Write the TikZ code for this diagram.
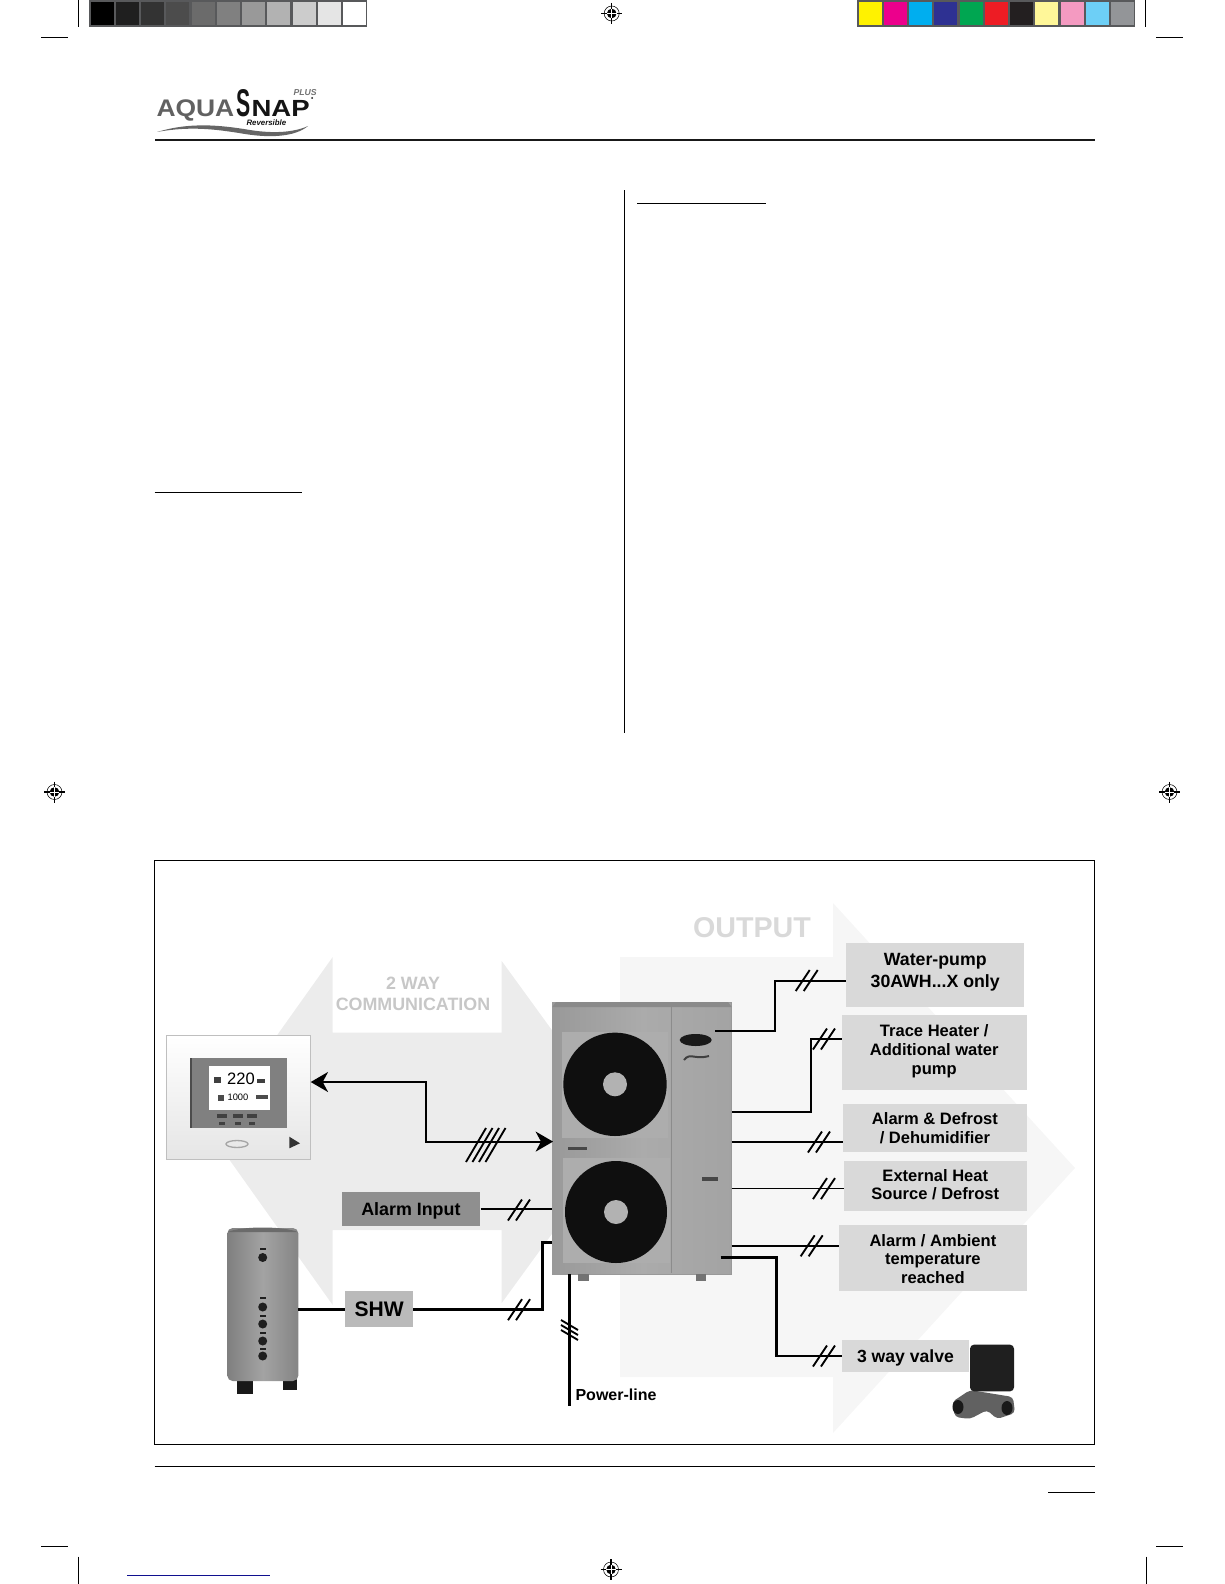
\documentclass[tikz,border=0pt]{standalone}
\usepackage{fontspec}
\setmainfont{Liberation Sans}
\usetikzlibrary{arrows.meta}

\definecolor{barframe}{HTML}{58595B}
\definecolor{cY}{HTML}{FFF200}
\definecolor{cM}{HTML}{EC008C}
\definecolor{cC}{HTML}{00AEEF}
\definecolor{cN}{HTML}{2E3192}
\definecolor{cG}{HTML}{00A651}
\definecolor{cR}{HTML}{ED1C24}
\definecolor{cK}{HTML}{231F20}
\definecolor{cLY}{HTML}{FFF799}
\definecolor{cP}{HTML}{F49AC1}
\definecolor{cS}{HTML}{6DCFF6}
\definecolor{cA}{HTML}{939598}
\definecolor{arrowleft}{HTML}{ECECEC}
\definecolor{arrowout}{HTML}{F6F6F6}
\definecolor{boxlight}{HTML}{D9D9D9}
\definecolor{linkblue}{HTML}{10108F}

\tikzset{every picture/.style={line width=0.75pt}}
\tikzset{
	wire/.style={line width=1.5pt},
	thinwire/.style={line width=1.1pt},
	slash/.style={line width=1.4pt},
	outbox/.style={fill=boxlight,inner sep=0pt,align=center,font=\fontsize{12.4}{14}\selectfont\bfseries},
	crop/.style={line width=0.75pt},
}
\newcommand{\regmark}[2]{%
	\draw [line width=0.4pt] (#1,#2) circle (7.5);
	\fill (#1,#2) circle (4.8);
	\draw [line width=0.8pt] (#1-10.5,#2) -- (#1+10.5,#2) (#1,#2-10.5) -- (#1,#2+10.5);
	\draw [white,line width=0.5pt] (#1-4.8,#2) -- (#1+4.8,#2) (#1,#2-4.8) -- (#1,#2+4.8);
}
\newcommand{\nudge}[2]{\raisebox{#1}[\height][\depth]{\begin{tabular}{@{}c@{}}#2\end{tabular}}}

\begin{document}
\begin{tikzpicture}[x=0.75pt,y=0.75pt,yscale=-1,xscale=1]
		\useasboundingbox (0,0) rectangle (1224,1584);
		
		%Shape: gray strip
		\fill [barframe] (89,0) rectangle (367,26.7);
		\foreach \g [count=\n from 0] in {100,88,80,70,58,50,40,30,20,10,0}
			\fill [black!\g] (90.5+\n*25.27,2) rectangle (113.5+\n*25.27,25);
		
		%Shape: colour strip
		\fill [barframe] (857,0) rectangle (1135,26.7);
		\foreach \c [count=\n from 0] in {cY,cM,cC,cN,cG,cR,cK,cLY,cP,cS,cA}
			\fill [\c] (858.5+\n*25.27,2) rectangle (881.5+\n*25.27,25);
		
		%Shape: crop marks
		\draw [crop] (78.3,0) -- (78.3,26.7) (41,37.3) -- (68,37.3);
		\draw [crop] (1145.8,0) -- (1145.8,26.7) (1156,37.3) -- (1183,37.3);
		\draw [crop] (41,1546) -- (68,1546) (78.3,1556.7) -- (78.3,1584);
		\draw [crop] (1156,1546) -- (1183,1546) (1146,1556.7) -- (1146,1584);
		\regmark{611.7}{13.5}
		\regmark{54.5}{792}
		\regmark{1169.5}{792}
		\regmark{611}{1569.5}
		
		%Shape: logo
		\node [anchor=base west,inner sep=0pt,text=black!62,xscale=1.1,font=\fontsize{18}{18}\selectfont\bfseries] (logoaqua) at (156,117) {AQUA};
		\node [anchor=base west,inner sep=0pt,text=black!92,xscale=0.55,font=\fontsize{29}{29}\selectfont\bfseries] (logos) at (236,117) {S};
		\node [anchor=base west,inner sep=0pt,text=black!92,xscale=1.18,font=\fontsize{17.5}{18}\selectfont\bfseries] (logonap) at (251,117) {NAP};
		\node [anchor=base west,inner sep=0pt,text=black!55,font=\fontsize{6.5}{7}\selectfont\bfseries\itshape] (logoplus) at (293,96) {PLUS};
		\node [anchor=base west,inner sep=0pt,text=black!92,font=\fontsize{5.9}{6}\selectfont\bfseries\itshape] (logorev) at (246,126) {Reversible};
		\fill [black!92] (312,98) circle (1);
		\fill [black!60] (157,132) .. controls (190,122) and (220,125) .. (250,130) .. controls (275,134) and (295,132) .. (308,126) .. controls (295,137) and (270,138) .. (245,134) .. controls (215,129) and (190,126) .. (157,132);
		
		%Shape: page rules
		\draw [line width=1.5pt,black!90] (155,140) -- (1094.6,140);
		\draw (624,190) -- (624,733);
		\draw (637,203) -- (766,203);
		\draw (154.5,492) -- (302,492);
		\draw (154.5,1466) -- (1094.6,1466);
		\draw (1048,1492.6) -- (1094.6,1492.6);
		\draw [linkblue] (127,1575) -- (269.6,1575);
		
		%Shape: background arrows
		\fill [arrowout] (620,957) -- (833,957) -- (833,903) -- (1075,1168) -- (833,1433) -- (833,1377) -- (620,1377) -- cycle;
		\fill [arrowleft] (209,1131) -- (332.7,957) -- (332.7,1032.5) -- (501.7,1032.5) -- (501.7,961) -- (626,1132) -- (501.7,1303) -- (501.7,1230) -- (332.7,1230) -- (332.7,1305) -- cycle;
		\node [text=black!22,align=center,inner sep=0pt,font=\fontsize{13.4}{15.4}\selectfont\bfseries] (titlecomm) at (413,994) {2 WAY\\COMMUNICATION};
		\node [text=black!15,inner sep=0pt,font=\fontsize{21.5}{24}\selectfont\bfseries] (titleout) at (752,928) {OUTPUT};
		
		%Shape: frame
		\draw (154.4,860.5) rectangle (1094,1444);
		
		%Shape: outdoor unit
		\node [draw=black!40,line width=0.5pt,left color=black!40,right color=black!36,middle color=black!33,minimum width=134.5pt,minimum height=204pt,inner sep=0pt] (unit) at (642,1138) {};
		\fill [black!46] (556,1002) -- (728,1002) -- (731.7,1007) -- (552.3,1007) -- cycle;
		\fill [black!32] (561.7,1032) rectangle (668,1138);
		\fill [black!32] (563,1158) rectangle (670,1263);
		\draw [black!45,line width=0.5pt] (671,1007) -- (671,1273);
		\fill [black!94] (615,1084.3) circle (51.7);
		\fill [black!94] (616,1212) circle (51);
		\fill [black!30] (615,1084.3) circle (12);
		\fill [black!30] (616,1212) circle (12);
		\fill [black!72] (568,1146.5) rectangle (587,1150);
		\fill [black!72] (702,1177) rectangle (718,1181);
		\fill [black!90] (695.7,1040) ellipse (16 and 6);
		\draw [black!75,line width=1.5pt] (684,1060) .. controls (690,1052) and (694,1060) .. (709,1056);
		\fill [black!55] (578,1274) rectangle (589,1281);
		\fill [black!55] (696,1274) rectangle (706,1281);
		
		%Shape: thermostat
		\node [draw=black!25,top color=white,bottom color=black!10,minimum width=108pt,minimum height=92.5pt,inner sep=0pt] (thermostat) at (238,1097.5) {};
		\fill [black!50] (190,1058) rectangle (286.7,1128);
		\draw [black!70,line width=1.2pt] (191,1058) -- (191,1128);
		\fill [white] (209,1065.7) rectangle (270,1110);
		\node [inner sep=0pt,font=\fontsize{12.4}{13}\selectfont] (disptemp) at (241,1079) {220};
		\node [inner sep=0pt,font=\fontsize{7}{8}\selectfont] (disptime) at (238,1097) {1000};
		\fill [black!75] (214,1077) rectangle (221,1083);
		\fill [black!75] (257,1079) rectangle (265,1083);
		\fill [black!70] (218,1095) rectangle (224,1101);
		\fill [black!70] (256,1095) rectangle (268,1099);
		\foreach \bx in {221.7,238.3,251.7} {
			\fill [black!75] (\bx-5,1114) rectangle (\bx+5,1118);
			\fill [black!75] (\bx-3,1122) rectangle (\bx+3,1125);
		}
		\draw [black!35,line width=1pt] (237,1144) ellipse (11 and 3.5);
		\fill [black!80] (289.3,1136.7) -- (289.3,1148.3) -- (300,1143.3) -- cycle;
		
		%Shape: tank
		\fill [black!90] (237,1375) rectangle (253,1394);
		\fill [black!90] (283,1375) rectangle (297,1390);
		\node [left color=black!50,right color=black!48,middle color=black!36,rounded corners=4pt,minimum width=53.25pt,minimum height=114.75pt,inner sep=0pt] (tank) at (262.8,1304.5) {};
		\fill [black!58] (228,1232) .. controls (240,1226) and (285,1226) .. (297.6,1232) -- cycle;
		\foreach \ty in {1257.5,1307,1324,1341,1356}
			\fill [black!88] (262.7,\ty) circle (4.5);
		\foreach \ty in {1249,1298,1316,1333,1349}
			\fill [black!88] (259.7,\ty-1) rectangle (265.7,\ty+1);
		
		%Shape: label boxes
		\node [fill=black!44,minimum width=103.7pt,minimum height=25.8pt,inner sep=0pt,font=\fontsize{13.4}{15}\selectfont\bfseries] (alarmbox) at (410.9,1208.8) {\nudge{-2.2pt}{Alarm Input}};
		\node [fill=black!27,minimum width=51.2pt,minimum height=26.8pt,inner sep=0pt,font=\fontsize{15.8}{18}\selectfont\bfseries] (shwbox) at (379.2,1308.9) {SHW};
		\node [outbox,minimum width=133.7pt,minimum height=48pt,font=\fontsize{13.3}{16}\selectfont\bfseries] (pumpbox) at (935.2,975) {\nudge{2.2pt}{Water-pump\\30AWH...X only}};
		\node [outbox,minimum width=138.75pt,minimum height=55.9pt] (heaterbox) at (934.2,1052.7) {\nudge{0.8pt}{Trace Heater /\\Additional water\\pump}};
		\node [outbox,minimum width=137.8pt,minimum height=36pt] (defrostbox) at (934.9,1128) {\nudge{-1.5pt}{Alarm \& Defrost\\/ Dehumidifier}};
		\node [outbox,minimum width=137pt,minimum height=37.1pt] (sourcebox) at (935.3,1186.2) {\nudge{-0.5pt}{External Heat\\Source / Defrost}};
		\node [outbox,minimum width=140.8pt,minimum height=49.5pt] (ambientbox) at (932.9,1258) {\nudge{-2.2pt}{Alarm / Ambient\\temperature\\reached}};
		\node [outbox,minimum width=95.25pt,minimum height=24pt,font=\fontsize{13.2}{15}\selectfont\bfseries] (valvebox) at (905.5,1356) {\nudge{-1.5pt}{3 way valve}};
		\node [inner sep=0pt,font=\fontsize{12}{14}\selectfont\bfseries] (powerlabel) at (616,1394.4) {Power-line};
		
		%Shape: valve
		\fill [black!62,rounded corners=3pt] (952,1402) -- (970,1390) -- (1013,1397) -- (1015,1413) -- (997,1419) -- (987,1410) -- (970,1419) -- (955,1417) -- cycle;
		\fill [black!90] (958,1407) ellipse (5.5 and 7);
		\fill [black!90] (1007,1408) ellipse (5.5 and 7);
		\node [fill=black!88,rounded corners=3pt,minimum width=33pt,minimum height=35pt,inner sep=0pt] (valve) at (992,1368) {};
		
		%Connector ends
		\coordinate (unitpump) at (715,1030.6);
		\coordinate (bendpumpa) at (775,1030.6);
		\coordinate (bendpumpb) at (775,980.5);
		\coordinate (pumpin) at (846,980.5);
		\coordinate (unitheater) at (732,1111.5);
		\coordinate (bendheatera) at (810.7,1111.5);
		\coordinate (bendheaterb) at (810.7,1039);
		\coordinate (heaterin) at (841.7,1039);
		\coordinate (unitdefrost) at (731.7,1142);
		\coordinate (defrostin) at (843,1142);
		\coordinate (unitsource) at (731.7,1188.6);
		\coordinate (sourcein) at (844,1188.6);
		\coordinate (unitambient) at (731.7,1245.8);
		\coordinate (ambientin) at (839,1245.8);
		\coordinate (unitvalve) at (720.7,1257.5);
		\coordinate (bendvalvea) at (776.7,1257.5);
		\coordinate (bendvalveb) at (776.7,1356);
		\coordinate (thermoend) at (310.7,1082);
		\coordinate (bendcommb) at (425.7,1082);
		\coordinate (bendcomma) at (425.7,1141.6);
		\coordinate (unitcomm) at (553,1141.6);
		\coordinate (unitalarm) at (552.3,1209);
		\coordinate (tankout) at (298.3,1309.7);
		\coordinate (shwin) at (345,1309.7);
		\coordinate (shwout) at (413.3,1309.7);
		\coordinate (bendshwa) at (542.7,1309.7);
		\coordinate (bendshwb) at (542.7,1242.4);
		\coordinate (unitshw) at (552.3,1242.4);
		\coordinate (unitpower) at (569.3,1274);
		\coordinate (powerend) at (569.3,1405.7);
		
		%Connectors
		\draw [wire] (unitpump) -- (bendpumpa) -- (bendpumpb) -- (pumpin);
		\draw [wire] (unitheater) -- (bendheatera) -- (bendheaterb) -- (heaterin);
		\draw [wire] (unitdefrost) -- (defrostin);
		\draw [thinwire] (unitsource) -- (sourcein);
		\draw [thinwire] (unitambient) -- (ambientin);
		\draw [line width=1.9pt] (unitvalve) -- (bendvalvea) -- (bendvalveb) -- (valvebox.west);
		\draw [wire,{Stealth[length=13pt,width=15pt,inset=4pt]}-{Stealth[length=13pt,width=15pt,inset=4pt]}] (thermoend) -- (bendcommb) -- (bendcomma) -- (unitcomm);
		\draw [thinwire] (alarmbox.east |- unitalarm) -- (unitalarm);
		\draw [line width=1.9pt] (tankout) -- (shwin);
		\draw [line width=1.9pt] (shwout) -- (bendshwa) -- (bendshwb) -- (unitshw);
		\draw [line width=1.9pt] (unitpower) -- (powerend);
		
		%Shape: wire count slashes
		\foreach \sx/\sy in {806.7/980.5,824/1039,819/1142,824/1188.6,811.7/1245.8,824/1356,519/1210,519/1309.7}
			\draw [slash] (\sx-11,\sy+10.5) -- (\sx+3,\sy-10.5) (\sx-3,\sy+10.5) -- (\sx+11,\sy-10.5);
		\foreach \sx in {466,472.5,479,485.5}
			\draw [slash] (\sx,1162) -- (\sx+20,1128);
		\foreach \sy in {1325,1330,1335}
			\draw [slash] (561,\sy-5) -- (578,\sy+5);
		
	\end{tikzpicture}
\end{document}
